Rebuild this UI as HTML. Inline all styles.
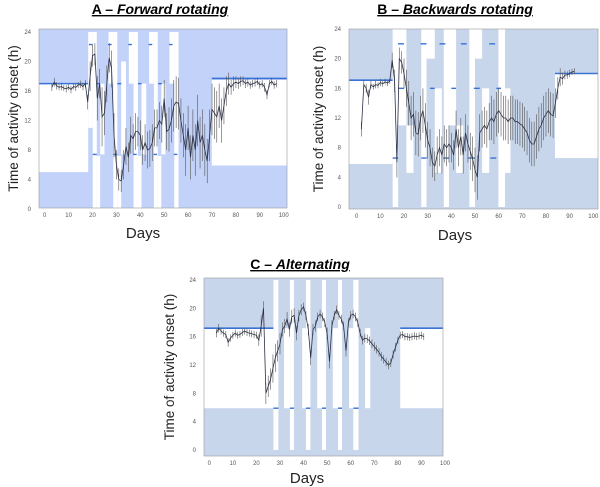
<!DOCTYPE html>
<html><head><meta charset="utf-8">
<style>
html,body{margin:0;padding:0;background:#fff;}
svg{display:block;font-family:"Liberation Sans",sans-serif;}
.tk{font-size:6px;fill:#555;}
.tt{font-size:14px;font-weight:bold;text-decoration:underline;}
.yt{font-size:13.5px;fill:#222;}
.xt{font-size:15px;fill:#222;}
</style></head>
<body>
<svg id="fig" width="600" height="487" viewBox="0 0 600 487">
<text class="tt" x="160" y="14" text-anchor="middle">A – <tspan font-style="italic">Forward rotating</tspan></text>
<text class="tt" x="455" y="14" text-anchor="middle">B – <tspan font-style="italic">Backwards rotating</tspan></text>
<text class="tt" x="300" y="269" text-anchor="middle">C – <tspan font-style="italic">Alternating</tspan></text>
<g id="pa"></g>
<g id="pb"></g>
<g id="pc"></g>
</svg>
<script>
// ---- Panel A data ----
const daysA = [3,4,5,6,7,8,9,10,11,12,13,14,15,16,17,18,19,20,21,22,23,24,25,26,27,28,29,30,31,32,33,34,35,36,37,38,39,40,41,42,43,44,45,46,47,48,49,50,51,52,53,54,55,56,57,58,59,60,61,62,63,64,65,66,67,68,69,70,71,72,73,74,75,76,77,78,79,80,81,82,83,84,85,86,87,88,89,90,91,92,93,94,95,96,97];
const onsetA = [16.5,17.2,16.7,16.5,16.6,16.4,16.3,16.5,16.2,16.6,16.5,16.8,16.9,16.6,17.0,14.5,18,20.8,21,15,17,12.5,13,17,20.5,19,10,6,4,3.8,6,8.5,7,10,9.5,10.5,10.5,10,8,9,8,8.2,9,11,11,12,11.5,15,10.5,10.8,12,14,14.5,14.3,12,10,8,11,7,10,8,12,9,10,8,6.5,10,13.5,13,12.5,14,12,14,16,17,16.5,17,17.2,17,17.3,17.4,17,17.2,16.8,17,17.1,17.3,16.8,17,16.5,15.5,17,17.3,16.8,17];
const errA = [0.5,0.6,0.5,0.4,0.5,0.4,0.5,0.4,0.5,0.4,0.5,0.4,0.5,0.5,0.5,1,2,1.5,1.5,3,2,4,3,2.5,2,2.5,3,2,1.5,1.5,2,2.5,2,2.5,2,2.5,2,2,2,2.5,2.5,2.5,2.5,2.5,2.5,2.5,2.5,2.5,2.5,3,3,3.5,3.5,3.5,3,3,3.5,3,3,3.5,3.5,3.5,3.5,3.5,3.5,3,3.5,3.5,3.5,3.5,3,3,2.5,2,1.5,1,1,0.8,0.7,0.7,0.6,0.6,0.6,0.5,0.5,0.5,0.5,0.5,0.5,0.6,0.6,0.5,0.5,0.5,0.5];
const lightA = [[-10,18.2,5,17],[69.9,110,5.9,17.5],[20.1,21.8,0,24],[18.2,20.1,11,24],[21.8,23.2,0,7.2],[23.2,25,7.4,17],
  [28.7,30.4,0,24],[26.7,28.7,17,24],[30.4,32,0,7.2],[32,34,7.4,20],
  [37.2,39,0,24],[35.2,37.2,17,24],[39,40.5,0,7.2],[40.5,42.5,7.4,17],
  [45.7,47.3,0,24],[43.7,45.7,17,24],[47.3,48.8,0,7.2],[48.8,50.5,7.4,17],
  [54.2,56,0,24],[52.2,54.2,17,24]];
const refA = [[-10,18.2,17],[69.9,110,17.7]];
const dashA = [[18.5,20,22.3],[26.5,28,22.3],[35,36.5,22.3],[43.5,45,22.3],[52,53.5,22.3],[21.8,23.2,17],[30.4,32,17],[39,40.5,17],[47.5,49,17],
  [20.1,21.8,7.4],[28.7,30.4,7.4],[37,38.5,7.4],[45.5,47,7.4],[54,55.5,7.4]];
// ---- Panel B data ----
const daysB = [2,3,4,5,6,7,8,9,10,11,12,13,14,15,16,17,18,19,20,21,22,23,24,25,26,27,28,29,30,31,32,33,34,35,36,37,38,39,40,41,42,43,44,45,46,47,48,49,50,51,52,53,54,55,56,57,58,59,60,61,62,63,64,65,66,67,68,69,70,71,72,73,74,75,76,77,78,79,80,81,82,83,84,85,86,87,88,89,90,91,92];
const onsetB = [10.5,16.5,16,14.8,16.5,16.2,16.5,16.4,16.8,16.6,16.9,16.7,17,19.8,17,6,20,19.5,18,16,14,12,12.5,10,9.8,12,13,11,9,8,6,5.5,7,8,7,8.5,8,8.5,8,7,10.5,8,9.5,7,10,8.5,7.5,6.5,5,4,10,10.5,11,10.5,11.5,12,11.5,12.5,13,12.5,12,12,11.5,12,12,11.5,11.5,11.2,11,10.5,10,9,8.5,8.5,9.5,10.5,11,12,12.5,13,12.5,12.3,14,16,17.5,17.3,17.8,17.8,18,18.2,18.3];
const errB = [1,0.6,0.6,1,0.5,0.4,0.5,0.4,0.5,0.4,0.4,0.4,0.4,1,1.5,2,1.5,1.5,2,2.5,3,3,3,3,3,3,3,3,2.5,2.5,2,2,2.5,2.5,2.5,2.5,2.5,2.5,2,2,2.5,2.5,2.5,2.5,2.5,2.5,2.5,3,3,3,2.5,2.5,2.5,2.5,2.5,3,3,3,3,3,3,3,3,3,3,3,3,3,3,3,3,3,3,3,3,3,3,3,3,3,3,3,2,1.5,1.2,0.8,0.6,0.5,0.5,0.4,0.4];
const lightB = [[-10,15.2,5.8,17.1],[83.8,110,6.6,18],
  [15.2,17.5,0,24],[17.5,21,11,24],[21,24,4.6,11],
  [27.3,29.5,0,24],[29.5,33,20,24],[33,36,4.6,16],
  [36.8,39,0,24],[39,42,11,24],[42,45,4.6,11],
  [47.6,50,0,24],[50,53,20,24],[53,56,4.6,16],
  [59.9,62.7,0,24],[62.7,65,4.6,16]];
const refB = [[-10,15.2,17.1],[83.8,110,18]];
const dashB = [[17.5,20,22],[27,29.5,22],[35,37.5,22],[44,46.5,22],[56,58.5,22],[17.5,20,16],[31,33,16],[40,42,16],[49.5,52,16],[59,61,16],
  [15.2,17.5,6.6],[27.3,29.5,6.6],[36.5,39,6.6],[47,50,6.6],[56.5,59,6.6]];
// ---- Panel C data ----
const daysC = [3,4,5,6,7,8,9,10,11,12,13,14,15,16,17,18,19,20,21,22,23,24,25,26,27,28,29,30,31,32,33,34,35,36,37,38,39,40,41,42,43,44,45,46,47,48,49,50,51,52,53,54,55,56,57,58,59,60,61,62,63,64,65,66,67,68,69,70,71,72,73,74,75,76,77,78,79,80,81,82,83,84,85,86,87,88,89,90,91];
const onsetC = [16.5,17.2,16.8,16.5,16.3,15.2,15.8,16.2,16.5,16.2,16.3,16.6,16.8,16.6,16.5,16.4,16.3,16.2,15.5,17.5,20,8,9,10,11.5,13,14,15,17,17.5,18.5,17,18.8,19,16.5,19,19.8,20.2,19,17,13,17,17.5,18.8,19.2,18.8,18,16.5,12.5,17.5,19,19.8,19,18.5,17.5,14,18,19,19.2,18.8,18,16.5,15.5,15.8,15.7,15.4,15,14.6,14.2,13.8,13.2,12.8,12.4,12,12.3,13.5,14.5,15.5,16.2,16.3,16,16,15.9,16,16.1,16,16.1,16.2,16];
const errC = [0.6,0.6,0.5,0.5,0.5,0.6,0.5,0.5,0.5,0.5,0.5,0.5,0.5,0.5,0.5,0.5,0.5,0.5,0.8,1.5,1,1.5,1.5,1.5,2,2,1.5,1.5,1,1,1,1,1,1,1,0.8,0.8,0.6,0.6,0.8,1,0.8,0.8,0.6,0.6,0.6,0.6,0.8,1,0.8,0.6,0.6,0.6,0.6,0.6,0.8,0.6,0.6,0.6,0.6,0.6,0.6,0.6,0.6,0.6,0.6,0.6,0.6,0.6,0.6,0.6,0.6,0.6,0.6,0.6,0.6,0.6,0.5,0.5,0.5,0.5,0.5,0.5,0.5,0.5,0.5,0.5,0.5,0.5];
const lightC = [[-10,27.2,5.9,17.2],[81,110,5.9,17.2],
  [27.2,29.3,0,24],[31.7,34.2,5.9,17.2],[34.2,35.9,0,24],[39.4,41,5.9,17.2],[41,42.9,0,24],[45.8,47.8,5.9,17.2],[47.8,49.5,0,24],
  [52.4,54.6,5.9,17.2],[54.6,56.3,0,24],[59.3,61.1,5.9,17.2],[61.1,63.3,0,24],[66.1,68.3,5.9,17.2]];
const refC = [[-10,27.2,17.2],[81,110,17.2]];
const dashC = [[27.2,29.3,5.9],[34.2,35.9,5.9],[41,42.9,5.9],[47.8,49.5,5.9],[54.6,56.3,5.9],[61.1,63.3,5.9]];

const xTicks = [0,10,20,30,40,50,60,70,80,90,100];
const yTicks = [0,4,8,12,16,20,24];

const NS = 'http://www.w3.org/2000/svg';
function mk(parent, tag, attrs) {
  const e = document.createElementNS(NS, tag);
  for (const k in attrs) e.setAttribute(k, attrs[k]);
  parent.appendChild(e);
  return e;
}
function drawPanel(g, geo, days, onset, err, light, refs, dashes, shade) {
  const xs = d => geo.x0 + (d) * (geo.x100 - geo.x0) / 100;
  const ys = h => geo.y0 - h * (geo.y0 - geo.y24) / 24;
  const L = geo.left, R = geo.right, T = geo.top, B = geo.bottom;
  const clipId = 'clip' + g.id;
  const cp = mk(g, 'clipPath', {id: clipId});
  mk(cp, 'rect', {x: L, y: T, width: R - L, height: B - T});
  const bg = mk(g, 'rect', {x: L, y: T, width: R - L, height: B - T, fill: shade});
  
  
  const lg = mk(g, 'g', {'clip-path': 'url(#' + clipId + ')'});
  light.forEach(r => {
    const y1 = ys(r[3]), y2 = ys(r[2]);
    const e = mk(lg, 'rect', {x: xs(r[0]), y: y1, width: xs(r[1]) - xs(r[0]), height: y2 - y1, fill: '#fff'});
    
    
  });
  refs.forEach(r => {
    const e = mk(lg, 'line', {x1: xs(r[0]), x2: xs(r[1]), y1: ys(r[2]), y2: ys(r[2]), stroke: '#3a72d6', 'stroke-width': 1.6});
    
    
  });
  dashes.forEach(r => {
    const e = mk(lg, 'line', {x1: xs(r[0]), x2: xs(r[1]), y1: ys(r[2]), y2: ys(r[2]), stroke: '#3a72d6', 'stroke-width': 1.4});
    
    
  });
  days.forEach((d, i) => {
    const e = mk(lg, 'line', {x1: xs(d), x2: xs(d), y1: ys(onset[i] + err[i]), y2: ys(onset[i] - err[i]), stroke: '#555', 'stroke-width': 0.6});
    
    
  });
  const pts = days.map((d, i) => xs(d).toFixed(1) + ',' + ys(onset[i]).toFixed(1)).join(' ');
  const pl = mk(lg, 'polyline', {points: pts, fill: 'none', stroke: '#2a2f45', 'stroke-width': 0.8});
  
  
  const fr = mk(g, 'rect', {x: L, y: T, width: R - L, height: B - T, fill: 'none', stroke: '#999', 'stroke-width': 0.6});
  
  
  xTicks.forEach(t => {
    const tx = mk(g, 'text', {x: xs(t), y: B + 9, class: 'tk', 'text-anchor': 'middle'});
    tx.textContent = t;
    
    
  });
  yTicks.forEach(t => {
    const tx = mk(g, 'text', {x: L - 8, y: ys(t) + 2, class: 'tk', 'text-anchor': 'end'});
    tx.textContent = t;
    
    
  });
  const yt = mk(g, 'text', {x: geo.ytx, y: (T + B) / 2, class: 'yt', 'text-anchor': 'middle', transform: 'rotate(-90 ' + geo.ytx + ' ' + (T + B) / 2 + ')'});
  yt.textContent = 'Time of activity onset (h)';
  
  
  const xt = mk(g, 'text', {x: geo.xtx, y: geo.xty, class: 'xt', 'text-anchor': 'middle'});
  xt.textContent = 'Days';
  
  
}
drawPanel(document.getElementById('pa'),
  {x0: 44.7, x100: 283.7, y0: 209, y24: 32, left: 39, right: 287, top: 29, bottom: 208, ytx: 18, xtx: 143, xty: 238},
  daysA, onsetA, errA, lightA, refA, dashA, '#c2d2f8');
drawPanel(document.getElementById('pb'),
  {x0: 356.7, x100: 593.3, y0: 207, y24: 29, left: 349, right: 598, top: 29, bottom: 209, ytx: 323, xtx: 455, xty: 240},
  daysB, onsetB, errB, lightB, refB, dashB, '#c8d6ec');
drawPanel(document.getElementById('pc'),
  {x0: 209.3, x100: 445, y0: 450, y24: 280, left: 204, right: 443, top: 278, bottom: 456, ytx: 174, xtx: 307, xty: 483},
  daysC, onsetC, errC, lightC, refC, dashC, '#c8d6ec');
</script>
</body></html>
